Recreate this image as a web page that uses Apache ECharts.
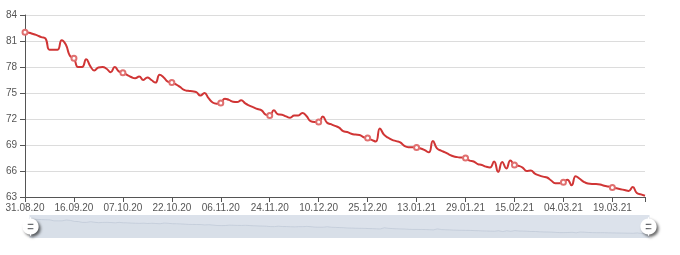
<!DOCTYPE html>
<html>
<head>
<meta charset="utf-8">
<script src="https://cdn.jsdelivr.net/npm/echarts@6/dist/echarts.min.js"></script>
<style>
html,body{margin:0;padding:0;background:#fff;}
#chart{width:680px;height:255px;}
</style>
</head>
<body>
<div id="chart"></div>
<script>
// Tick label dates (every 12th category) and the last category date
const tickDates = ['31.08.20','16.09.20','07.10.20','22.10.20','06.11.20','24.11.20','10.12.20','25.12.20','13.01.21','29.01.21','15.02.21','04.03.21','19.03.21'];
const lastDate = '31.03.21';
const pointsPerTick = 12;
const pointsAfterLastTick = 8;

// Series values
const values = [
82.0,81.95,81.8,81.65,81.45,81.3,80.0,80.0,80.0,81.1,80.6,79.3,
79.0,78.0,78.0,78.9,78.1,77.6,77.95,78.0,77.8,77.4,78.0,77.5,
77.35,77.1,76.85,76.7,76.9,76.5,76.8,76.5,76.2,77.1,76.8,76.3,
76.2,76.0,75.7,75.35,75.25,75.2,75.1,74.7,75.0,74.4,73.9,73.75,
73.85,74.35,74.2,74.0,73.95,74.15,73.8,73.55,73.35,73.15,73.0,72.5,
72.4,73.0,72.55,72.5,72.3,72.15,72.4,72.4,72.7,72.35,71.75,71.65,
71.65,72.3,71.6,71.4,71.2,71.0,70.6,70.5,70.3,70.2,70.15,69.9,
69.8,69.6,69.4,70.9,70.2,69.85,69.6,69.45,69.3,68.9,68.75,68.75,
68.7,68.6,68.4,68.15,69.45,68.6,68.35,68.15,67.9,67.7,67.6,67.55,
67.5,67.2,67.1,66.8,66.7,66.5,66.4,67.1,65.9,67.05,66.3,67.2,
66.7,66.6,66.4,66.0,66.05,65.7,65.5,65.35,65.25,64.9,64.6,64.6,
64.7,65.0,64.35,65.4,65.1,64.75,64.55,64.5,64.5,64.45,64.3,64.2,
64.1,64.0,63.9,63.8,63.7,64.15,63.45,63.3,63.15
];

const yMin = 63, yMax = 84, yStep = 3;

function parseD(s){const p=s.split('.');return Date.UTC(2000+ +p[2], +p[1]-1, +p[0]);}
function fmtD(t){const d=new Date(t);const dd=String(d.getUTCDate()).padStart(2,'0');const mm=String(d.getUTCMonth()+1).padStart(2,'0');const yy=String(d.getUTCFullYear()%100).padStart(2,'0');return dd+'.'+mm+'.'+yy;}
const DAY=86400000;
const categories=[];
const anchors=tickDates.concat([lastDate]);
for(let k=0;k<anchors.length-1;k++){
  const a=parseD(anchors[k]), b=parseD(anchors[k+1]);
  const n = (k===anchors.length-2)? pointsAfterLastTick : pointsPerTick;
  for(let j=0;j<n;j++){
    categories.push(j===0?anchors[k]:fmtD(a+Math.round(j*(b-a)/n/DAY)*DAY));
  }
}
categories.push(lastDate);

const lastIdx = categories.length-1;
const chart = echarts.init(document.getElementById('chart'), null, {renderer:'canvas'});
const handleIcon = 'path://M10.7,11.9v-1.3H9.3v1.3c-4.9,0.3-8.8,4.4-8.8,9.4c0,5,3.9,9.1,8.8,9.4v1.3h1.3v-1.3c4.9-0.3,8.8-4.4,8.8-9.4C19.5,16.3,15.6,12.2,10.7,11.9z M13.3,24.4H6.7V23h6.6V24.4z M13.3,19.6H6.7v-1.4h6.6V19.6z';
chart.setOption({
  animation:false,
  textStyle:{fontFamily:'Liberation Sans, Arial, sans-serif'},
  grid:{left:25,right:35,top:15,bottom:58},
  xAxis:{
    type:'category',
    boundaryGap:false,
    data:categories,
    axisLine:{lineStyle:{color:'#555'}},
    axisTick:{length:5,interval:function(i){return i%pointsPerTick===0||i===lastIdx;},lineStyle:{color:'#555'}},
    axisLabel:{interval:pointsPerTick-1,fontSize:10,color:'#555',margin:6}
  },
  yAxis:{
    type:'value',
    min:yMin,max:yMax,interval:yStep,
    axisLine:{show:true,lineStyle:{color:'#555'}},
    axisTick:{show:true,length:5,lineStyle:{color:'#555'}},
    axisLabel:{fontSize:10,color:'#555',margin:8},
    splitLine:{lineStyle:{color:'#dcdcdc'}}
  },
  dataZoom:[{
    type:'slider',
    start:0,end:100,
    left:27,right:33,top:215,height:23,
    showDetail:false,
    brushSelect:false,
    moveHandleSize:0,
    borderColor:'transparent',
    backgroundColor:'transparent',
    fillerColor:'rgba(167,183,204,0.4)',
    handleIcon:handleIcon,
    handleSize:'80%',
    handleStyle:{color:'#fff',borderWidth:0,shadowBlur:3,shadowColor:'rgba(0,0,0,0.6)',shadowOffsetX:2,shadowOffsetY:2},
    dataBackground:{lineStyle:{color:'#b8c2cf',width:0.5},areaStyle:{color:'rgba(47,69,84,0.11)'}},
    selectedDataBackground:{lineStyle:{color:'#b8c2cf',width:0.5},areaStyle:{color:'rgba(47,69,84,0.11)'}}
  }],
  series:[{
    type:'line',
    data:values,
    smooth:true,
    symbol:'emptyCircle',
    symbolSize:5,
    lineStyle:{color:'#d03535',width:2},
    itemStyle:{color:'#e07070',borderColor:'#e07070',borderWidth:1}
  }]
});
</script>
</body>
</html>
